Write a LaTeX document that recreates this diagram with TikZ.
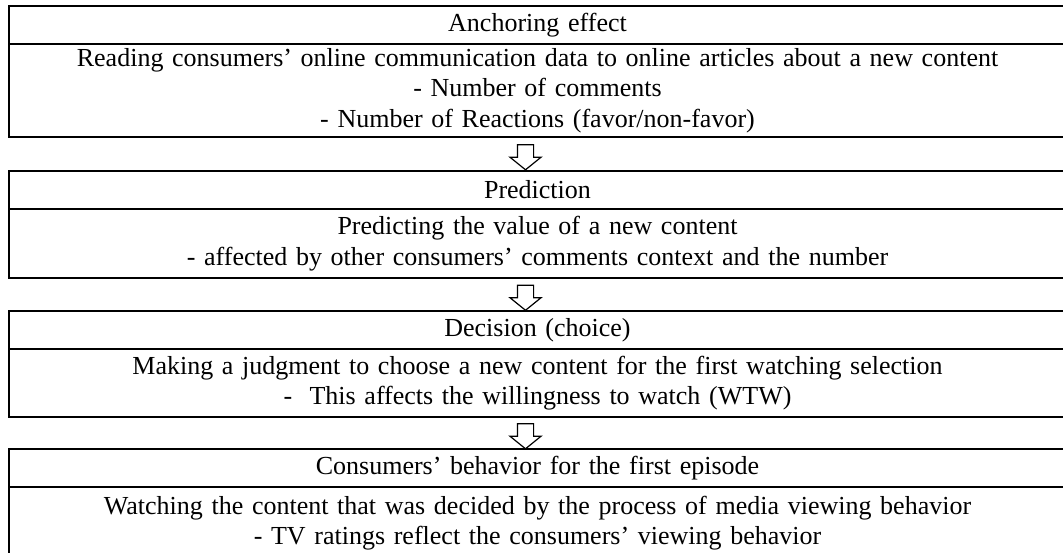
\documentclass[tikz,border=0pt]{standalone}
\usepackage{fontspec}
\setmainfont{Liberation Serif}
\usetikzlibrary{positioning, calc, shapes.arrows}

\tikzset{
  stage/.style={draw, line width=0.75pt, inner sep=0pt, outer sep=0pt, text width=528.5pt, align=center, font=\fontsize{13}{15.25}\selectfont},
  stagehead/.style={stage, minimum height=19pt},
  flowarrow/.style={draw, line width=0.6pt, single arrow, rotate=-90, inner xsep=0pt, inner ysep=3.75pt, minimum height=12.5pt, single arrow head extend=3.75pt, single arrow tip angle=102}
}

\begin{document}
\begin{tikzpicture}[x=0.5pt, y=-0.5pt]
  \path [use as bounding box, clip] (0,0) rectangle (1063,552);
  \node [stagehead, anchor=north west] (anchoring) at (9,6) {Anchoring effect};
  \node [stage, minimum height=46.5pt, below=0pt of anchoring] (anchoringbody) {Reading consumers’ online communication data to online articles about a new content\\- Number of comments\\- Number of Reactions (favor/non-favor)};
  \node [stagehead, below=17pt of anchoringbody] (prediction) {Prediction};
  \node [stage, minimum height=34.5pt, below=0pt of prediction] (predictionbody) {Predicting the value of a new content\\- affected by other consumers’ comments context and the number};
  \node [stagehead, below=16.5pt of predictionbody] (decision) {Decision (choice)};
  \node [stage, minimum height=34pt, below=0pt of decision] (decisionbody) {Making a judgment to choose a new content for the first watching selection\\-\ \ This affects the willingness to watch (WTW)};
  \node [stagehead, below=16pt of decisionbody] (behavior) {Consumers’ behavior for the first episode};
  \node [stage, minimum height=36pt, below=0pt of behavior] (behaviorbody) {Watching the content that was decided by the process of media viewing behavior\\- TV ratings reflect the consumers’ viewing behavior};
  \node [flowarrow] (arrowa) at ($(anchoringbody.south)!.5!(prediction.north)+(-12,0)$) {};
  \node [flowarrow] (arrowb) at ($(predictionbody.south)!.5!(decision.north)+(-12,0)$) {};
  \node [flowarrow] (arrowc) at ($(decisionbody.south)!.5!(behavior.north)+(-12,0)$) {};
\end{tikzpicture}
\end{document}
